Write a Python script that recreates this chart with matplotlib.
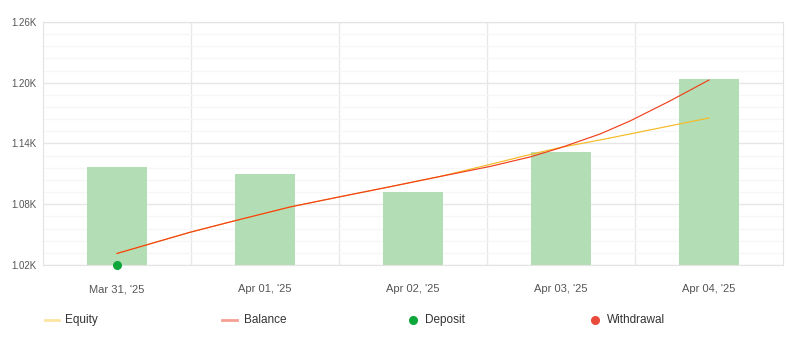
import matplotlib.pyplot as plt
from matplotlib.lines import Line2D
from matplotlib.ticker import FuncFormatter, MultipleLocator

plt.rcParams['font.family'] = ['Liberation Sans', 'DejaVu Sans']

days = ["Mar 31, '25", "Apr 01, '25", "Apr 02, '25", "Apr 03, '25", "Apr 04, '25"]
bar_values = [1116.8, 1109.9, 1092.1, 1131.6, 1203.7]

# curve points, x in days from Mar 31
balance_x = [0.0, 0.25, 0.493, 0.804, 1.169, 1.5, 1.845, 2.182, 2.52, 2.791, 2.993, 3.264, 3.466, 3.736, 4.0]
balance_y = [1031.4, 1042.0, 1052.3, 1064.0, 1077.3, 1087.2, 1097.3, 1107.4, 1117.3, 1126.7, 1135.6,
             1149.4, 1162.2, 1182.0, 1202.7]
equity_x = [0.0, 0.25, 0.493, 0.804, 1.169, 1.5, 1.845, 2.182, 2.52, 2.791, 2.993, 3.264, 3.466, 4.0]
equity_y = [1031.4, 1042.0, 1052.3, 1064.0, 1077.3, 1087.2, 1097.3, 1107.4, 1119.3, 1129.1, 1136.0,
            1143.5, 1149.4, 1165.2]

deposit_x = [0.0]
deposit_y = [1020.0]

fig = plt.figure(figsize=(7.93, 3.43), dpi=100)
ax = fig.add_axes([0.0542, 0.2274, 0.9332, 0.7085])

ax.bar(range(len(days)), bar_values, width=0.405, color='#b3deb5', zorder=2)
ax.plot(equity_x, equity_y, color='#f7b924', lw=0.85, zorder=3)
ax.plot(balance_x, balance_y, color='#f0401c', lw=0.85, zorder=4)
ax.scatter(deposit_x, deposit_y, s=30, color='#0ca63a', zorder=5, clip_on=False)

ax.set_xlim(-0.5, 4.5)
ax.set_ylim(1020, 1260)
ax.set_xticks(range(len(days)))
ax.set_xticklabels(days)
ax.set_xticks([0.5, 1.5, 2.5, 3.5], minor=True)
ax.yaxis.set_major_locator(MultipleLocator(60))
ax.yaxis.set_minor_locator(MultipleLocator(12))
ax.yaxis.set_major_formatter(FuncFormatter(lambda v, p: f'{v/1000:.2f}K'))

ax.grid(which='major', axis='y', color='#e6e6e6', lw=1, zorder=0)
ax.grid(which='minor', axis='y', color='#f6f6f6', lw=1, zorder=0)
ax.grid(which='minor', axis='x', color='#e8e8e8', lw=1, zorder=0)
ax.tick_params(axis='both', which='both', length=0)
ax.tick_params(axis='x', labelsize=8, colors='#555555', pad=14)
ax.tick_params(axis='y', labelsize=7, colors='#555555', pad=4.5)
for s in ax.spines.values():
    s.set_color('#e3e3e3')

# legend row
W, H = 793, 343
ly = 1 - 320 / H
fig.add_artist(Line2D([45 / W, 59 / W], [ly, ly], color='#fde4a0', lw=2))
fig.text(65 / W, ly, 'Equity', fontsize=8.5, color='#333333', va='center')
fig.add_artist(Line2D([222 / W, 237 / W], [ly, ly], color='#f5a093', lw=2))
fig.text(244 / W, ly, 'Balance', fontsize=8.5, color='#333333', va='center')
fig.add_artist(Line2D([413 / W], [ly], marker='o', ms=5.5, color='#0ca63a', lw=0))
fig.text(425 / W, ly, 'Deposit', fontsize=8.5, color='#333333', va='center')
fig.add_artist(Line2D([595 / W], [ly], marker='o', ms=5.5, color='#ea4a3a', lw=0))
fig.text(607 / W, ly, 'Withdrawal', fontsize=8.5, color='#333333', va='center')

fig.savefig('out.png', dpi=100)
